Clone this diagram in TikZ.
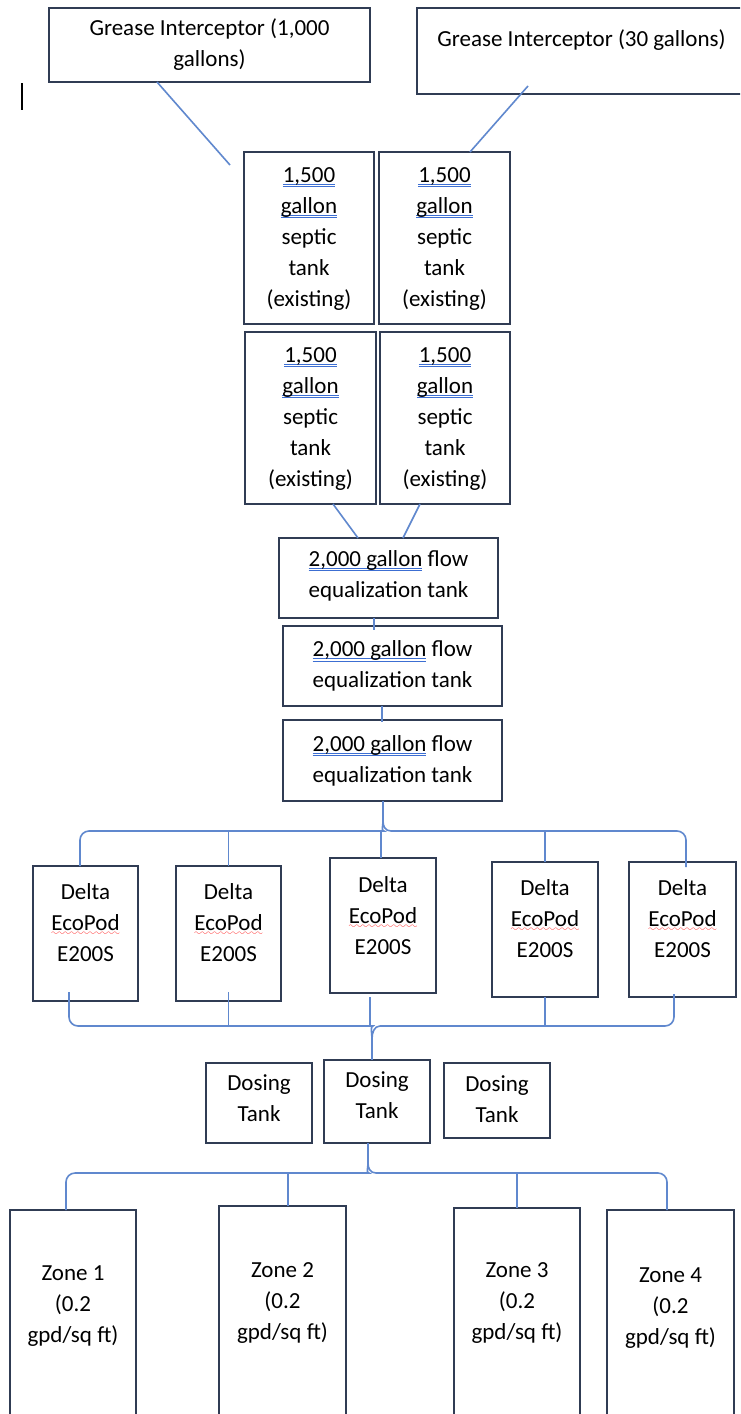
\documentclass[tikz,border=0pt]{standalone}
\usepackage{fontspec}
\setmainfont{Carlito}
\usepackage{xcolor}
\usepackage{tikz}
\usetikzlibrary{positioning}

\definecolor{boxline}{RGB}{48,60,84}
\definecolor{pipeblue}{RGB}{96,136,206}
\definecolor{checkblue}{RGB}{60,110,210}
\font\wavefont=lasy10 at 9pt

% stacked lines in a box, optional extra depth lifts the text
\newcommand{\boxlines}[2][0pt]{\raisebox{0pt}[\height][\dimexpr\depth+#1\relax]{\begin{tabular}{@{}c@{}}#2\end{tabular}}}
\newsavebox\markbox
\newcommand{\blueul}[1]{\sbox\markbox{#1}\rlap{\color{checkblue}\rule[-2.4pt]{\wd\markbox}{.9pt}}\rlap{\color{checkblue}\rule[-5pt]{\wd\markbox}{.9pt}}\usebox\markbox}
\newcommand{\redwave}[1]{\sbox\markbox{#1}\rlap{\color{red}\lower5pt\hbox to\wd\markbox{\xleaders\hbox{\wavefont\char58}\hfill}}\usebox\markbox}

\begin{document}
\begin{tikzpicture}[x=1pt, y=-1pt,
  box/.style={draw=boxline, line width=1.5pt, inner sep=0pt, outer sep=0pt, font=\fontsize{23}{31}\selectfont},
  dims/.style 2 args={minimum width=#1, minimum height=#2},
  pipe/.style={draw=pipeblue, line width=1.6pt}
]
\useasboundingbox (0,0) rectangle (740,1414);
\clip (0,0) rectangle (740,1414);
\fill[white] (0,0) rectangle (740,1414);
\draw[line width=1.3pt] (22,83) -- (22,110);

% Grease interceptors
\node[box, dims={321pt}{74pt}] (gi1) at (209.5,45) {\boxlines{Grease Interceptor (1,000\\gallons)}};
\node[box, dims={329pt}{86pt}] (gi2) at (581.5,51) {\boxlines[22pt]{Grease Interceptor (30 gallons)}};

% Septic tanks
\node[box, dims={130pt}{172pt}] (st1) at (309,238) {\boxlines{\blueul{1,500}\\\blueul{gallon}\\septic\\tank\\(existing)}};
\node[box, dims={131pt}{172pt}] (st2) at (444.5,238) {\boxlines{\blueul{1,500}\\\blueul{gallon}\\septic\\tank\\(existing)}};
\node[box, dims={131pt}{172pt}] (st3) at (310.5,418) {\boxlines{\blueul{1,500}\\\blueul{gallon}\\septic\\tank\\(existing)}};
\node[box, dims={130pt}{172pt}] (st4) at (445,418) {\boxlines{\blueul{1,500}\\\blueul{gallon}\\septic\\tank\\(existing)}};

% Flow equalization
\node[box, dims={219pt}{80pt}] (eq1) at (388.5,578) {\boxlines[5pt]{\blueul{2,000 gallon} flow\\equalization tank}};
\node[box, dims={219pt}{80pt}] (eq2) at (392.5,666) {\boxlines{\blueul{2,000 gallon} flow\\equalization tank}};
\node[box, dims={219pt}{81pt}] (eq3) at (392.5,760.5) {\boxlines{\blueul{2,000 gallon} flow\\equalization tank}};

% Treatment units
\node[box, dims={105pt}{135pt}] (pod1) at (85.5,933.5) {\boxlines[19pt]{Delta\\\redwave{EcoPod}\\E200S}};
\node[box, dims={105pt}{135pt}] (pod2) at (228.5,933.5) {\boxlines[19pt]{Delta\\\redwave{EcoPod}\\E200S}};
\node[box, dims={106pt}{135pt}] (pod3) at (383,925.5) {\boxlines[17pt]{Delta\\\redwave{EcoPod}\\E200S}};
\node[box, dims={106pt}{135pt}] (pod4) at (545,929.5) {\boxlines[19pt]{Delta\\\redwave{EcoPod}\\E200S}};
\node[box, dims={107pt}{135pt}] (pod5) at (682.5,929.5) {\boxlines[19pt]{Delta\\\redwave{EcoPod}\\E200S}};

% Dosing
\node[box, dims={106pt}{80pt}] (dose1) at (259,1103) {\boxlines[6pt]{Dosing\\Tank}};
\node[box, dims={106pt}{83pt}] (dose2) at (377,1101.5) {\boxlines[9pt]{Dosing\\Tank}};
\node[box, dims={106pt}{75pt}] (dose3) at (497,1100.5) {\boxlines{Dosing\\Tank}};

% Zones
\node[box, dims={126pt}{230pt}] (zone1) at (73,1325) {\boxlines[39pt]{Zone 1\\(0.2\\gpd/sq ft)}};
\node[box, dims={127pt}{234pt}] (zone2) at (282.5,1323) {\boxlines[42pt]{Zone 2\\(0.2\\gpd/sq ft)}};
\node[box, dims={126pt}{232pt}] (zone3) at (517,1324) {\boxlines[44pt]{Zone 3\\(0.2\\gpd/sq ft)}};
\node[box, dims={127pt}{230pt}] (zone4) at (670.5,1325) {\boxlines[36pt]{Zone 4\\(0.2\\gpd/sq ft)}};

% Pipes down to the equalization tanks
\draw[pipe] ([xshift=-52.5pt]gi1.south) -- ([xshift=-14pt,yshift=-13pt]st1.north west);
\draw[pipe] ([xshift=-53.5pt,yshift=8pt]gi2.south) -- ([xshift=25.5pt]st2.north);
\draw[pipe] ([xshift=22.5pt]st3.south) -- ([xshift=-30.5pt]eq1.north);
\draw[pipe] ([xshift=-25pt]st4.south) -- ([xshift=14.5pt]eq1.north);
\draw[pipe] ([xshift=-14.5pt]eq1.south) -- ([xshift=-18.5pt,yshift=-4pt]eq2.north);
\draw[pipe] ([xshift=-10.5pt]eq2.south) -- ([xshift=-10.5pt,yshift=-2pt]eq3.north);

% Manifold to the pods
\coordinate (tb) at ([xshift=-9.5pt,yshift=-20pt]eq3.south);
\coordinate (topbar) at ([yshift=-10pt]tb);
\draw[pipe] ([xshift=-9.5pt]eq3.south) -- (tb);
\draw[pipe] ([xshift=-5.5pt]pod1.north) [rounded corners=9pt] |- ([xshift=-8pt]topbar) [sharp corners]
  .. controls +(6pt,0pt) and +(0pt,-5pt) .. (tb) .. controls +(0pt,-5pt) and +(-6pt,0pt) .. ([xshift=8pt]topbar)
  [rounded corners=9pt] -| ([xshift=3.5pt,yshift=-5pt]pod5.north);
\draw[pipe] ([xshift=-2pt]topbar) -- ([xshift=-2pt]pod3.north);
\draw[pipe] (pod2.north) -- (pod2.north |- topbar);
\draw[pipe] (pod4.north) -- (pod4.north |- topbar);

% Collector to the dosing tank
\coordinate (bb) at ([xshift=-5pt,yshift=21pt]dose2.north);
\coordinate (botbar) at ([yshift=13pt]bb);
\draw[pipe] ([xshift=-16.5pt,yshift=9pt]pod1.south) [rounded corners=9pt] |- ([xshift=-8pt]botbar) [sharp corners]
  .. controls +(6pt,0pt) and +(0pt,6pt) .. (bb) .. controls +(0pt,6pt) and +(-6pt,0pt) .. ([xshift=8pt]botbar)
  [rounded corners=9pt] -| ([xshift=-8.5pt,yshift=3pt]pod5.south);
\draw[pipe] ([yshift=9pt]pod2.south) -- (pod2.south |- botbar);
\draw[pipe] (pod4.south) -- (pod4.south |- botbar);
\draw[pipe] ([xshift=-13pt,yshift=-4pt]pod3.south) -- ([xshift=-2pt]botbar);
\draw[pipe] (bb) -- (bb |- dose2.north);

% Distribution to the zones
\coordinate (zb) at ([xshift=-9pt,yshift=-20pt]dose2.south);
\coordinate (zonebar) at ([yshift=-10pt]zb);
\draw[pipe] (dose2.south -| zb) -- (zb);
\draw[pipe] ([xshift=-7pt]zone1.north) [rounded corners=9pt] |- ([xshift=-8pt]zonebar) [sharp corners]
  .. controls +(6pt,0pt) and +(0pt,-5pt) .. (zb) .. controls +(0pt,-5pt) and +(-6pt,0pt) .. ([xshift=8pt]zonebar)
  [rounded corners=9pt] -| ([xshift=-3.5pt]zone4.north);
\draw[pipe] ([xshift=5.5pt]zone2.north) -- ([xshift=5.5pt,yshift=33pt]zone2.north);
\draw[pipe] (zone3.north) -- (zone3.north |- zonebar);
\end{tikzpicture}
\end{document}
